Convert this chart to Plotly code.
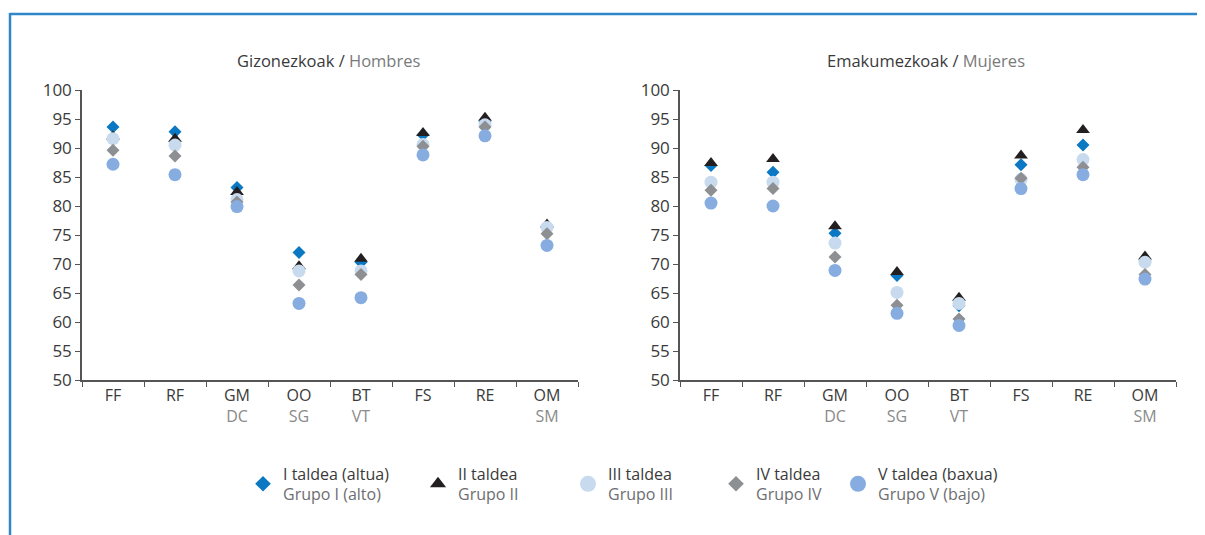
import plotly.graph_objects as go
from plotly.subplots import make_subplots

categories = ["FF", "RF", "GM", "OO", "BT", "FS", "RE", "OM"]
sub_labels = ["", "", "DC", "SG", "VT", "", "", "SM"]

series_names = ["I taldea (altua)", "II taldea", "III taldea", "IV taldea", "V taldea (baxua)"]
series_names_es = ["Grupo I (alto)", "Grupo II", "Grupo III", "Grupo IV", "Grupo V (bajo)"]

hombres_I = [93.6, 92.8, 83.2, 72.0, 70.3, 92.3, 94.5, 76.5]
hombres_II = [92.0, 91.6, 82.4, 69.6, 70.9, 92.6, 95.2, 76.8]
hombres_III = [91.6, 90.5, 81.1, 68.8, 68.8, 90.6, 94.0, 76.3]
hombres_IV = [89.6, 88.6, 80.7, 66.4, 68.2, 90.3, 93.6, 75.2]
hombres_V = [87.2, 85.4, 79.9, 63.2, 64.2, 88.8, 92.1, 73.2]

mujeres_I = [87.0, 85.8, 75.3, 68.0, 62.8, 87.1, 90.5, 70.5]
mujeres_II = [87.4, 88.1, 76.5, 68.6, 64.2, 88.7, 93.1, 71.3]
mujeres_III = [84.1, 84.1, 73.6, 65.1, 63.2, 84.6, 88.0, 70.3]
mujeres_IV = [82.7, 83.0, 71.2, 62.9, 60.5, 84.8, 86.7, 68.2]
mujeres_V = [80.5, 80.0, 68.9, 61.5, 59.4, 83.0, 85.4, 67.4]

colors = ["#0a78c2", "#231f20", "#c8daee", "#8e8f92", "#86ace0"]
symbols = ["diamond", "triangle-up", "circle", "diamond", "circle"]
sizes = [10, 12, 13, 10, 13]
legend_sizes = [12, 14, 16, 12, 16]

hombres = [hombres_I, hombres_II, hombres_III, hombres_IV, hombres_V]
mujeres = [mujeres_I, mujeres_II, mujeres_III, mujeres_IV, mujeres_V]

# page has an 8px body margin; work in screen pixels and shift
OFF = 8
W, H = 1205, 535
ML = 82 - OFF
MT = 90 - OFF
PLOT_BOTTOM = 380 - OFF
MB = H - PLOT_BOTTOM
MR = W - (1176 - OFF)
PW = W - ML - MR
PH = H - MT - MB

def px_x(p):
    return (p - OFF - ML) / PW

def px_y(p):
    return (PLOT_BOTTOM - (p - OFF)) / PH

fig = make_subplots(rows=1, cols=2, horizontal_spacing=(680 - 578) / PW)

legend_names = ["legend", "legend2", "legend3", "legend4", "legend5"]
for i in range(5):
    for col, data in ((1, hombres), (2, mujeres)):
        fig.add_trace(
            go.Scatter(
                x=categories, y=data[i], mode="markers",
                marker=dict(symbol=symbols[i], color=colors[i], size=sizes[i], line=dict(width=0)),
                showlegend=False,
                hoverinfo="x+y",
                name=series_names[i],
            ),
            row=1, col=col,
        )

# legend-only entries (no data points drawn) with larger symbols
for i in range(5):
    fig.add_trace(
        go.Scatter(
            x=[None], y=[None], mode="markers",
            name=f"{series_names[i]}<br><span style='color:#6d6e71'>{series_names_es[i]}</span>",
            marker=dict(symbol=symbols[i], color=colors[i], size=legend_sizes[i], line=dict(width=0)),
            showlegend=True, legend=legend_names[i], hoverinfo="skip",
        ),
        row=1, col=1,
    )

ticktext = [c if s == "" else f"{c}<br><span style='color:#8a8a8a'>{s}</span>" for c, s in zip(categories, sub_labels)]

FONT = "Open Sans, Noto Sans, sans-serif"
axis_font = dict(family=FONT, size=16, color="#3a3a3a")
for col in (1, 2):
    fig.update_xaxes(
        type="category", categoryorder="array", categoryarray=categories,
        tickmode="array", tickvals=categories, ticktext=ticktext,
        range=[-0.5, 7.5], tickson="boundaries", ticks="outside", ticklen=5,
        tickcolor="#555555", showline=True, linecolor="#555555", linewidth=1.5,
        showgrid=False, zeroline=False, tickfont=axis_font,
        row=1, col=col,
    )
    fig.update_yaxes(
        range=[50, 100], dtick=5, tick0=50, ticks="outside", ticklen=5,
        tickcolor="#555555", showline=True, linecolor="#555555", linewidth=1.5,
        showgrid=False, zeroline=False, tickfont=dict(family=FONT, size=17, color="#3a3a3a"),
        row=1, col=col,
    )

marker_px = [263, 438, 588, 736, 858]
legend_layouts = {}
for i, name in enumerate(legend_names):
    legend_layouts[name] = dict(
        x=px_x(marker_px[i] - 20), xanchor="left",
        y=px_y(484), yanchor="middle",
        orientation="h", bgcolor="rgba(0,0,0,0)",
        font=dict(family=FONT, size=16, color="#3a3a3a"),
        itemsizing="trace",
    )

title_font = dict(family=FONT, size=16.5, color="#3a3a3a")
annotations = [
    dict(text="Gizonezkoak / <span style='color:#7a7a7a'>Hombres</span>", x=px_x(328), y=px_y(61),
         xref="paper", yref="paper", showarrow=False, font=title_font, xanchor="center", yanchor="middle"),
    dict(text="Emakumezkoak / <span style='color:#7a7a7a'>Mujeres</span>", x=px_x(926), y=px_y(61),
         xref="paper", yref="paper", showarrow=False, font=title_font, xanchor="center", yanchor="middle"),
]

shapes = [
    dict(type="line", xref="paper", yref="paper", x0=px_x(10), x1=px_x(1230), y0=px_y(14), y1=px_y(14),
         line=dict(color="#2f86c8", width=2.5)),
    dict(type="line", xref="paper", yref="paper", x0=px_x(10), x1=px_x(10), y0=px_y(13), y1=px_y(560),
         line=dict(color="#2f86c8", width=2.5)),
]

fig.update_layout(
    width=W, height=H,
    margin=dict(l=ML, r=MR, t=MT, b=MB),
    paper_bgcolor="white", plot_bgcolor="white",
    annotations=annotations, shapes=shapes,
    **legend_layouts,
)

fig.write_html("out.html")
